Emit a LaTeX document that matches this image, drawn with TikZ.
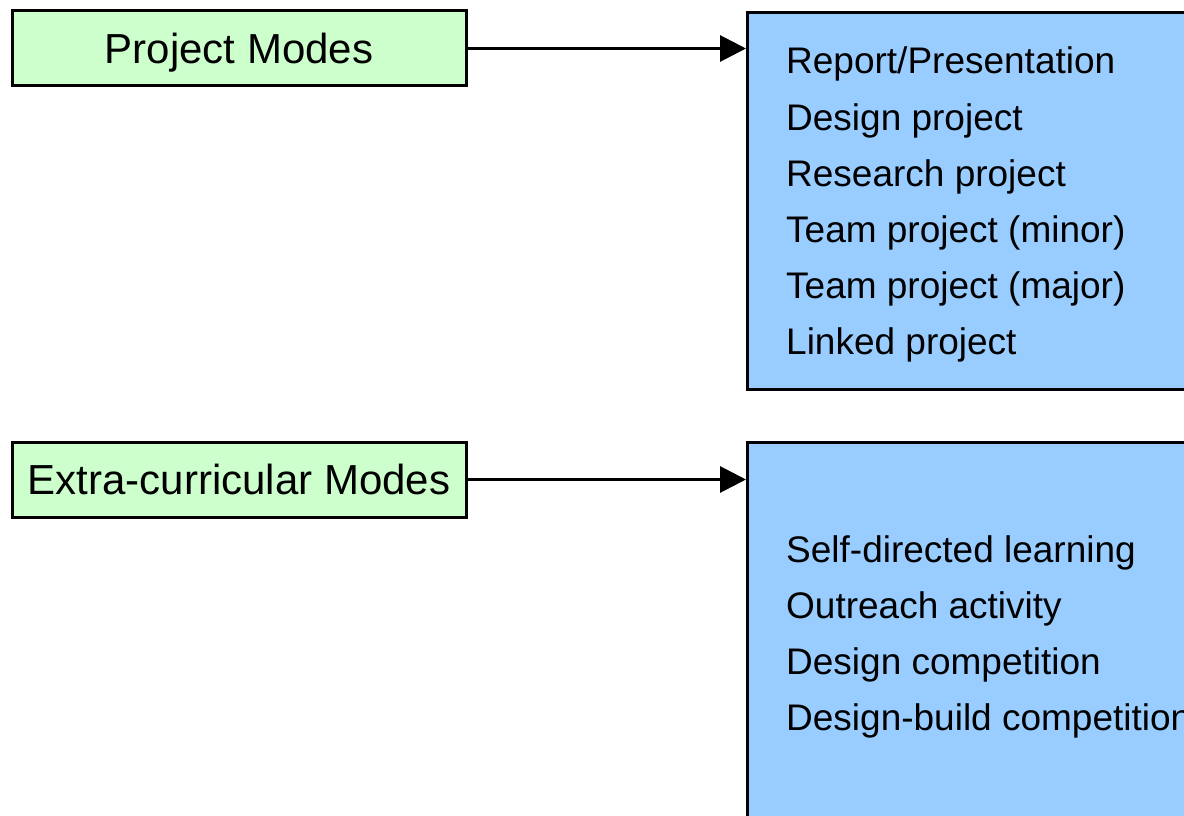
\documentclass[tikz,border=0pt]{standalone}
\usepackage{fontspec}
\setmainfont{Liberation Sans}
\usetikzlibrary{arrows.meta}

\tikzset{
  modebox/.style={draw, line width=3pt, fill=modegreen, minimum width=454pt, minimum height=75pt,
    inner sep=0pt, text height=30pt, text depth=0pt, font=\fontsize{42}{50}\selectfont},
  listbox/.style={draw, line width=3pt, fill=listblue, anchor=north west, minimum width=520pt, inner sep=0pt},
  item/.style={anchor=base west, inner sep=0pt, font=\fontsize{37}{44}\selectfont},
  link/.style={line width=3pt, -{Triangle[length=26pt, width=26pt]}}
}
\definecolor{modegreen}{HTML}{CCFFCC}
\definecolor{listblue}{HTML}{99CCFF}

\begin{document}
\begin{tikzpicture}[x=1pt, y=-1pt]
    \useasboundingbox (0,0) rectangle (1184,816);
    \clip (0,0) rectangle (1184,816);

    % Left column
    \node[modebox] (proj) at (239,48.5) {Project Modes};
    \node[modebox] (extra) at (239,479.5) {Extra-curricular Modes};

    % Right column
    \node[listbox, minimum height=377pt] (projlist) at (746,11) {};
    \node[listbox, minimum height=420pt] (extralist) at (746,441) {};

    % Items
    \node[item] (report) at (786,74) {Report/Presentation};
    \node[item] (design) at (786,130) {Design project};
    \node[item] (research) at (786,186) {Research project};
    \node[item] (minor) at (786,242) {Team project (minor)};
    \node[item] (major) at (786,298) {Team project (major)};
    \node[item] (linked) at (786,354) {Linked project};

    \node[item] (self) at (786,562) {Self-directed learning};
    \node[item] (outreach) at (786,618) {Outreach activity};
    \node[item] (compet) at (786,674) {Design competition};
    \node[item] (build) at (786,730) {Design-build competition};

    % Edges
    \draw[link] (proj.east) -- (proj.east -| projlist.west);
    \draw[link] (extra.east) -- (extra.east -| extralist.west);

\end{tikzpicture}
\end{document}
